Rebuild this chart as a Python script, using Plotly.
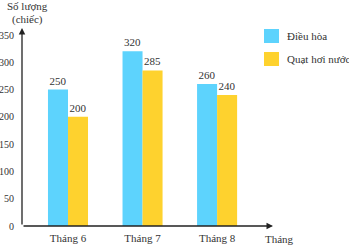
import plotly.graph_objects as go

months = ["Tháng 6", "Tháng 7", "Tháng 8"]
dieu_hoa = [250, 320, 260]
quat_hoi_nuoc = [200, 285, 240]
series_names = ["Điều hòa", "Quạt hơi nước"]
y_ticks = [0, 50, 100, 150, 200, 250, 300, 350]

C1 = "#5dd3fd"
C2 = "#fed22e"
FONT = "Liberation Serif"
TXT = "#333333"
FS = 11

# plot area in pixels
L, R, T, B = 22, 273, 28, 226
W_, H_ = 349, 245


def px(x):
    return (x - L) / (R - L)


def py(y):
    return (B - y) / (B - T)


fig = go.Figure()
fig.add_bar(x=months, y=dieu_hoa, name=series_names[0], marker_color=C1,
            marker_line_width=0, text=[str(v) for v in dieu_hoa],
            textposition="outside", cliponaxis=False,
            textfont=dict(family=FONT, size=FS, color=TXT))
fig.add_bar(x=months, y=quat_hoi_nuoc, name=series_names[1], marker_color=C2,
            marker_line_width=0, text=[str(v) for v in quat_hoi_nuoc],
            textposition="outside", cliponaxis=False,
            textfont=dict(family=FONT, size=FS, color=TXT))

ymax = 350 * (B - T) / (B - 35)
fig.update_layout(
    width=W_, height=H_,
    margin=dict(l=L, r=W_ - R, t=T, b=H_ - B),
    paper_bgcolor="white", plot_bgcolor="white",
    barmode="group", bargap=0.463, bargroupgap=0,
    showlegend=False,
    font=dict(family=FONT, size=FS, color=TXT),
    xaxis=dict(range=[-0.617, 2.75], showline=False, showgrid=False,
               ticks="", ticklabelstandoff=4, zeroline=False, automargin=False,
               tickfont=dict(family=FONT, size=FS, color=TXT)),
    yaxis=dict(range=[0, ymax], tickvals=y_ticks, showgrid=False,
               showline=False, zeroline=False, ticks="", ticklabelstandoff=7,
               automargin=False,
               tickfont=dict(family=FONT, size=10, color=TXT)),
)

# axes with arrows
fig.add_annotation(x=-0.617, y=ymax, xref="x", yref="y", ax=0, ay=B - T,
                   axref="pixel", ayref="pixel", text="", showarrow=True,
                   arrowhead=2, arrowsize=1, arrowwidth=1.3, arrowcolor="#222")
fig.add_annotation(x=2.75, y=0, xref="x", yref="y", ax=-(R - L), ay=0,
                   axref="pixel", ayref="pixel", text="", showarrow=True,
                   arrowhead=2, arrowsize=1, arrowwidth=1.3, arrowcolor="#222")

# axis titles
fig.add_annotation(x=px(5), y=py(6), xref="paper", yref="paper",
                   text="Số lượng", showarrow=False, xanchor="left", yanchor="middle",
                   font=dict(family=FONT, size=FS, color=TXT))
fig.add_annotation(x=px(10), y=py(19), xref="paper", yref="paper",
                   text="(chiếc)", showarrow=False, xanchor="left", yanchor="middle",
                   font=dict(family=FONT, size=FS, color=TXT))
fig.add_annotation(x=px(263), y=py(239), xref="paper", yref="paper",
                   text="Tháng", showarrow=False, xanchor="left", yanchor="middle",
                   font=dict(family=FONT, size=FS, color=TXT))

# legend
for i, (name, col) in enumerate(zip(series_names, [C1, C2])):
    y0 = 29 + i * 23
    fig.add_shape(type="rect", xref="paper", yref="paper",
                  x0=px(264), x1=px(279), y0=py(y0 + 14), y1=py(y0),
                  fillcolor=col, line_width=0)
    fig.add_annotation(x=px(285), y=py(y0 + 7), xref="paper", yref="paper",
                       text=name, showarrow=False, xanchor="left", yanchor="middle",
                       font=dict(family=FONT, size=FS, color=TXT))

fig.write_html("out.html")
